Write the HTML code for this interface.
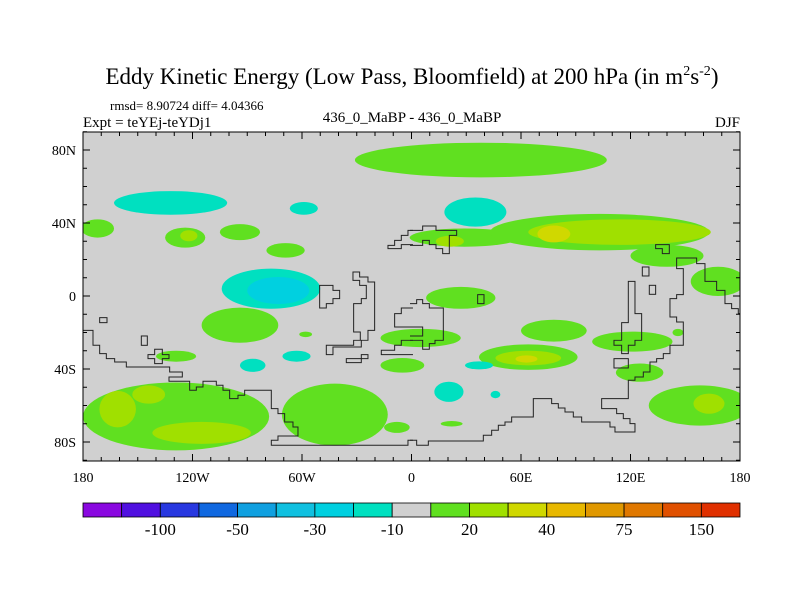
<!DOCTYPE html>
<html><head><meta charset="utf-8"><style>
body{margin:0;background:#fff;}
svg{display:block;font-family:"Liberation Serif",serif;}
</style></head><body>
<svg id="chart" width="800" height="600">
<text x="412" y="84" font-size="23" text-anchor="middle">Eddy Kinetic Energy (Low Pass, Bloomfield) at 200 hPa (in m<tspan dy="-9" font-size="14">2</tspan><tspan dy="9">s</tspan><tspan dy="-9" font-size="14">-2</tspan><tspan dy="9">)</tspan></text>
<text x="110" y="110" font-size="13">rmsd= 8.90724 diff= 4.04366</text>
<text x="83" y="127" font-size="15">Expt = teYEj-teYDj1</text>
<text x="412" y="122" font-size="15" text-anchor="middle">436_0_MaBP - 436_0_MaBP</text>
<text x="740" y="127" font-size="15" text-anchor="end">DJF</text>
<defs><clipPath id="clip"><rect x="83" y="132" width="657" height="329"/></clipPath></defs>
<rect x="83" y="132" width="657" height="329" fill="#d0d0d0"/>
<g id="blobs" clip-path="url(#clip)"></g>
<g clip-path="url(#clip)" fill="none" stroke="#222" stroke-width="3">
<g transform="translate(83,132) scale(0.3333)">
<polyline points="0,595 30,595 30,640 50,640 50,665 70,665 70,680 95,680 95,690 130,690 130,705 260,705 260,720 298,720 298,735 258,735 258,748 320,748 320,775 340,775 340,765 360,765 360,748 400,748 400,760 420,760 420,775 440,775 440,800 465,800 465,790 485,790 485,775 565,775 565,830 585,830 585,845 605,845 605,870 630,870 630,885 645,885 645,912 585,912 585,925 565,925 565,940 975,940 975,925 990,925"/>
<polygon points="810,420 830,420 830,435 855,435 855,450 875,450 875,595 855,595 855,625 835,625 835,645 750,645 750,668 730,668 730,640 812,640 812,625 832,625 832,600 812,600 812,515 835,515 835,500 850,500 850,460 830,460 830,445 810,445"/>
<polygon points="710,460 750,460 750,475 770,475 770,500 750,500 750,515 730,515 730,528 710,528"/>
<polyline points="990,528 955,528 955,545 935,545 935,585 990,585"/>
<polyline points="990,625 955,625 955,640 935,640 935,655 895,655 895,668 990,668"/>
<polyline points="990,295 975,295 975,310 955,310 955,325 935,325 935,340 915,340 915,350 955,350 955,338 990,338"/>
<rect x="50" y="557" width="22" height="15"/><rect x="175" y="612" width="18" height="28"/>
<polygon points="195,668 215,668 215,652 238,652 238,668 258,668 258,680 238,680 238,695 215,695 215,680 195,680"/>
<polygon points="790,680 835,680 835,668 855,668 855,680 835,680 835,692 790,692"/>
</g>
<g transform="translate(410,132) scale(0.3333)">
<polyline points="0,925 20,925 20,940 55,940 55,927 220,927 220,910 245,910 245,895 265,895 265,880 285,880 285,870 305,870 305,855 370,855 370,800 425,800 425,815 445,815 445,828 465,828 465,840 490,840 490,855 515,855 515,870 600,870 600,885 615,885 615,900 675,900 675,875 660,875 660,860 640,860 640,845 620,845 620,830 575,830 575,800 655,800 655,745 675,745 675,735 700,735 700,720 720,720 720,690 740,690 740,680 760,680 760,665 780,665 780,640 820,640 820,570 800,570 800,555 780,555 780,500 800,500 800,488 820,488 820,410 800,410 800,378 860,378 860,395 885,395 885,448 920,448 920,475 945,475 945,515 965,515 965,530 985,530 985,545 990,545"/>
<polyline points="0,515 20,515 20,503 38,503 38,515 58,515 58,528 100,528 100,625 75,625 75,635 58,635 58,652 38,652 38,625 0,625"/>
<polyline points="0,585 38,585 38,612 0,612"/>
<polyline points="0,295 38,295 38,282 78,282 78,295 140,295 140,310 118,310 118,365 98,365 98,350 78,350 78,338 58,338 58,325 38,325 38,340 0,340"/>
<polygon points="655,448 675,448 675,545 695,545 695,625 675,625 675,640 655,640 655,665 635,665 635,640 612,640 612,625 635,625 635,572 655,572"/>
<rect x="612" y="680" width="43" height="28"/>
<rect x="697" y="405" width="20" height="27"/><rect x="718" y="460" width="19" height="27"/><rect x="203" y="488" width="19" height="27"/>
<polygon points="737,338 778,338 778,365 757,365 757,350 737,350"/>
</g>
</g>
<g id="axes"></g>
<g id="cbar"></g>
</svg>
<script>
const colors=["#8a08e0","#5010e0","#2838e0","#1068e0","#10a0e0","#10c0e0","#00d0e0","#00e0c0","#d0d0d0","#60e020","#a0e000","#d0d800","#e8b800","#e09800","#e07800","#e05000","#e03000"];
const cbLabels=["-100","-50","-30","-10","20","40","75","150"];
const cbLabelIdx=[2,4,6,8,10,12,14,16];
// blobs: lon, lat, radius lon, radius lat, color index
const blobLon=[38,-132,-59,-172,-124,-122,-94,-69,-77,-73,-94,-58,-129,-63,-87,5,-5,-129,-161,-115,-144,-42,-8,35,29,21,103,114,78,140,168,27,78,64,64,63,121,125,146,37,20.5,46,22,158,163];
const blobLat=[74.5,51,48,37,32,33,35,25,4,3,-16,-21,-33,-33,-38,-23,-38,-66,-62,-75,-54,-65,-72,46,32,30,35,35,34,22,8,-1,-19,-33.5,-34,-34.5,-25,-42,-20,-38,-52.5,-54,-70,-60,-59];
const blobRx=[69,31,7.7,9,11,4.7,11,10.5,27,17,21,3.5,11,7.7,7,22,12,51,10,27,9,29,7,17,30,7.7,60,50,9,20,15,19,18,27,18,6,22,13,3,7.7,8,2.7,6,28,8.5];
const blobRy=[9.5,6.5,3.5,5,5.5,3,4.4,4,11,7.4,9.6,1.5,3,3,3.6,5,4,18.6,10,6,5,17,3,8,5,3,10,7,4.6,6,8,6,6,7,4,2,5.5,5,2,2.2,5.5,2,1.5,11,5.5];
const blobC=[9,7,7,9,9,10,9,9,7,6,9,9,9,7,7,9,9,9,10,10,10,9,9,7,9,10,9,10,11,9,9,9,9,9,10,11,9,9,9,7,7,7,9,9,10];
const X=lon=>83+(lon+180)*657/360;
const Y=lat=>296-lat*1.825;
const ns="http://www.w3.org/2000/svg";
const bg=document.getElementById('blobs');
for(let i=0;i<blobLon.length;i++){
 const e=document.createElementNS(ns,'ellipse');
 e.setAttribute('cx',X(blobLon[i]));e.setAttribute('cy',Y(blobLat[i]));
 e.setAttribute('rx',blobRx[i]*1.825);e.setAttribute('ry',blobRy[i]*1.825);
 e.setAttribute('fill',colors[blobC[i]]);
 
 
 bg.appendChild(e);
}
const ax=document.getElementById('axes');
let h='<rect x="83" y="132" width="657" height="329" fill="none" stroke="#000" stroke-width="1"/>';
const lonT=[-180,-120,-60,0,60,120,180],lonL=["180","120W","60W","0","60E","120E","180"];
for(let l=-180;l<=180;l+=10){const x=X(l),len=(l%60==0)?7:4;h+=`<line x1="${x}" y1="461" x2="${x}" y2="${461-len}" stroke="#000"/><line x1="${x}" y1="132" x2="${x}" y2="${132+len}" stroke="#000"/>`;}
lonT.forEach((l,i)=>{h+=`<text x="${X(l)}" y="482" font-size="14" text-anchor="middle">${lonL[i]}</text>`;});
const latT=[80,40,0,-40,-80],latL=["80N","40N","0","40S","80S"];
for(let l=-90;l<=90;l+=10){const y=Y(l),len=(l%40==0)?7:4;h+=`<line x1="83" y1="${y}" x2="${83+len}" y2="${y}" stroke="#000"/><line x1="740" y1="${y}" x2="${740-len}" y2="${y}" stroke="#000"/>`;}
latT.forEach((l,i)=>{h+=`<text x="76" y="${Y(l)+5}" font-size="14" text-anchor="end">${latL[i]}</text>`;});
ax.innerHTML=h;
const cb=document.getElementById('cbar');
let c='';const w=657/17;
colors.forEach((col,i)=>{c+=`<rect x="${83+i*w}" y="503" width="${w}" height="14" fill="${col}" stroke="#000" stroke-width="0.8"/>`;});
cbLabels.forEach((t,i)=>{c+=`<text x="${83+cbLabelIdx[i]*w}" y="535" font-size="17" text-anchor="middle">${t}</text>`;});
cb.innerHTML=c;
</script>
</body></html>
